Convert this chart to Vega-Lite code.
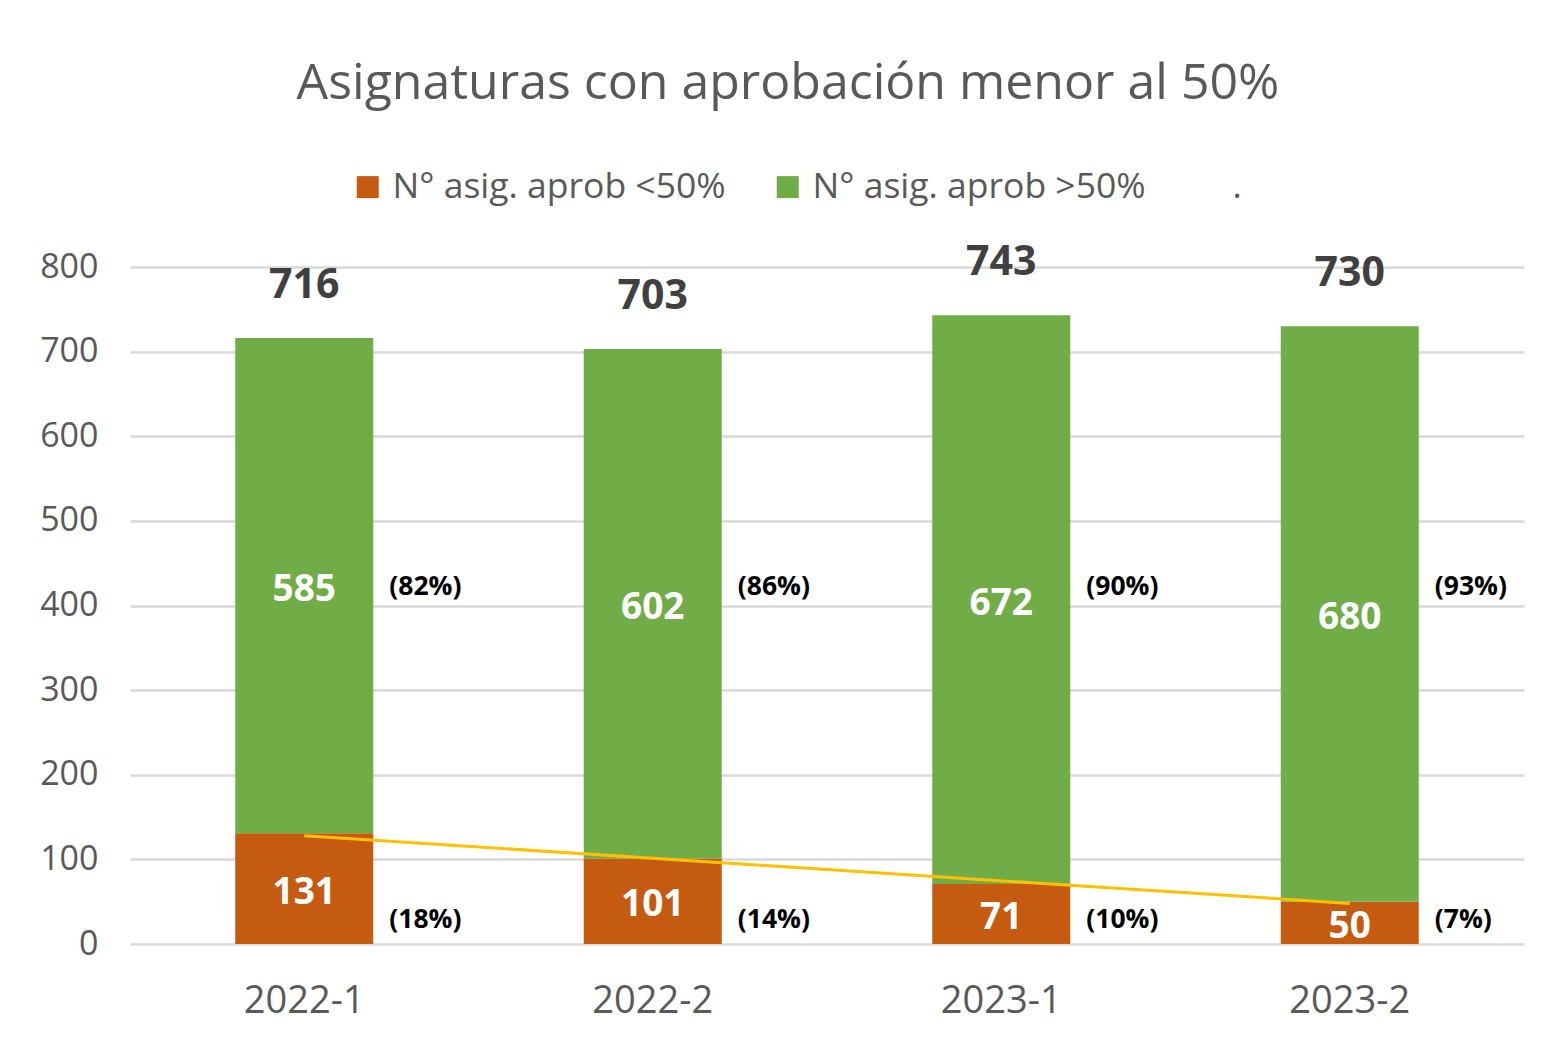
{
  "$schema": "https://vega.github.io/schema/vega-lite/v6.json",
  "width": 1394,
  "height": 677,
  "autosize": {"type": "none"},
  "padding": {"left": 130, "top": 267, "right": 28, "bottom": 103},
  "background": "white",
  "title": {
    "text": "Asignaturas con aprobación menor al 50%",
    "font": "Open Sans",
    "fontSize": 50,
    "fontWeight": "normal",
    "color": "#595959",
    "anchor": "middle",
    "dx": -39,
    "offset": 60
  },
  "datasets": {
    "main": [
      {"period": "2022-1", "series": "N° asig. aprob <50%", "count": 131, "pct": "(18%)"},
      {"period": "2022-1", "series": "N° asig. aprob >50%", "count": 585, "pct": "(82%)"},
      {"period": "2022-2", "series": "N° asig. aprob <50%", "count": 101, "pct": "(14%)"},
      {"period": "2022-2", "series": "N° asig. aprob >50%", "count": 602, "pct": "(86%)"},
      {"period": "2023-1", "series": "N° asig. aprob <50%", "count": 71, "pct": "(10%)"},
      {"period": "2023-1", "series": "N° asig. aprob >50%", "count": 672, "pct": "(90%)"},
      {"period": "2023-2", "series": "N° asig. aprob <50%", "count": 50, "pct": "(7%)"},
      {"period": "2023-2", "series": "N° asig. aprob >50%", "count": 680, "pct": "(93%)"}
    ],
    "trend": [
      {"period": "2022-1", "trend": 128},
      {"period": "2023-2", "trend": 48}
    ]
  },
  "data": {"name": "main"},
  "encoding": {
    "x": {
      "field": "period",
      "type": "nominal",
      "sort": null,
      "scale": {"paddingInner": 0.604, "paddingOuter": 0.302},
      "axis": {
        "title": null,
        "labelAngle": 0,
        "labelFont": "Open Sans",
        "labelFontSize": 38,
        "labelColor": "#595959",
        "labelPadding": 38,
        "ticks": false,
        "domain": false,
        "grid": false
      }
    }
  },
  "layer": [
    {
      "mark": {"type": "bar"},
      "encoding": {
        "y": {
          "field": "count",
          "type": "quantitative",
          "aggregate": "sum",
          "scale": {"domain": [0, 800], "nice": false},
          "axis": {
            "title": null,
            "values": [0, 100, 200, 300, 400, 500, 600, 700, 800],
            "labelFont": "Open Sans",
            "labelFontSize": 34,
            "labelColor": "#595959",
            "labelPadding": 32,
            "ticks": false,
            "domain": false,
            "grid": true,
            "gridColor": "#d9d9d9",
            "gridWidth": 2.5
          }
        },
        "color": {
          "field": "series",
          "type": "nominal",
          "scale": {
            "domain": ["N° asig. aprob <50%", "N° asig. aprob >50%", "."],
            "range": ["#C55A11", "#70AD47", "transparent"]
          },
          "legend": {
            "title": null,
            "orient": "none",
            "legendX": 220,
            "legendY": -98,
            "direction": "horizontal",
            "padding": 0,
            "symbolType": "square",
            "symbolSize": 484,
            "symbolStrokeWidth": 0,
            "labelFont": "Open Sans",
            "labelFontSize": 35.5,
            "labelColor": "#595959",
            "labelOffset": 7,
            "labelLimit": 0,
            "columnPadding": 44
          }
        },
        "order": {"field": "series", "sort": "ascending"}
      }
    },
    {
      "data": {"name": "trend"},
      "mark": {"type": "line", "color": "#FFC000", "strokeWidth": 3},
      "encoding": {
        "y": {"field": "trend", "type": "quantitative"}
      }
    },
    {
      "transform": [
        {"stack": "count", "groupby": ["period"], "sort": [{"field": "series", "order": "ascending"}], "as": ["v0", "v1"]},
        {"fold": ["v0", "v1"], "as": ["k", "pos"]}
      ],
      "mark": {"type": "text", "color": "white", "font": "Open Sans", "fontWeight": "bold", "fontSize": 37, "baseline": "middle", "dy": 4},
      "encoding": {
        "y": {"field": "pos", "type": "quantitative", "aggregate": "mean", "stack": null},
        "detail": {"field": "series"},
        "text": {"field": "count", "aggregate": "max", "type": "quantitative"}
      }
    },
    {
      "mark": {"type": "text", "color": "#404040", "font": "Open Sans", "fontWeight": "bold", "fontSize": 41, "baseline": "alphabetic", "dy": -40},
      "encoding": {
        "y": {"field": "count", "type": "quantitative", "aggregate": "sum", "stack": null},
        "text": {"field": "count", "aggregate": "sum", "type": "quantitative"}
      }
    },
    {
      "transform": [{"filter": "datum.series == 'N° asig. aprob >50%'"}],
      "mark": {"type": "text", "color": "black", "font": "Open Sans", "fontWeight": "bold", "fontSize": 26.5, "align": "left", "baseline": "middle", "dx": 85},
      "encoding": {
        "y": {"datum": 422, "type": "quantitative"},
        "text": {"field": "pct"}
      }
    },
    {
      "transform": [{"filter": "datum.series == 'N° asig. aprob <50%'"}],
      "mark": {"type": "text", "color": "black", "font": "Open Sans", "fontWeight": "bold", "fontSize": 26.5, "align": "left", "baseline": "middle", "dx": 85},
      "encoding": {
        "y": {"datum": 28, "type": "quantitative"},
        "text": {"field": "pct"}
      }
    }
  ],
  "config": {
    "view": {"stroke": null}
  }
}
